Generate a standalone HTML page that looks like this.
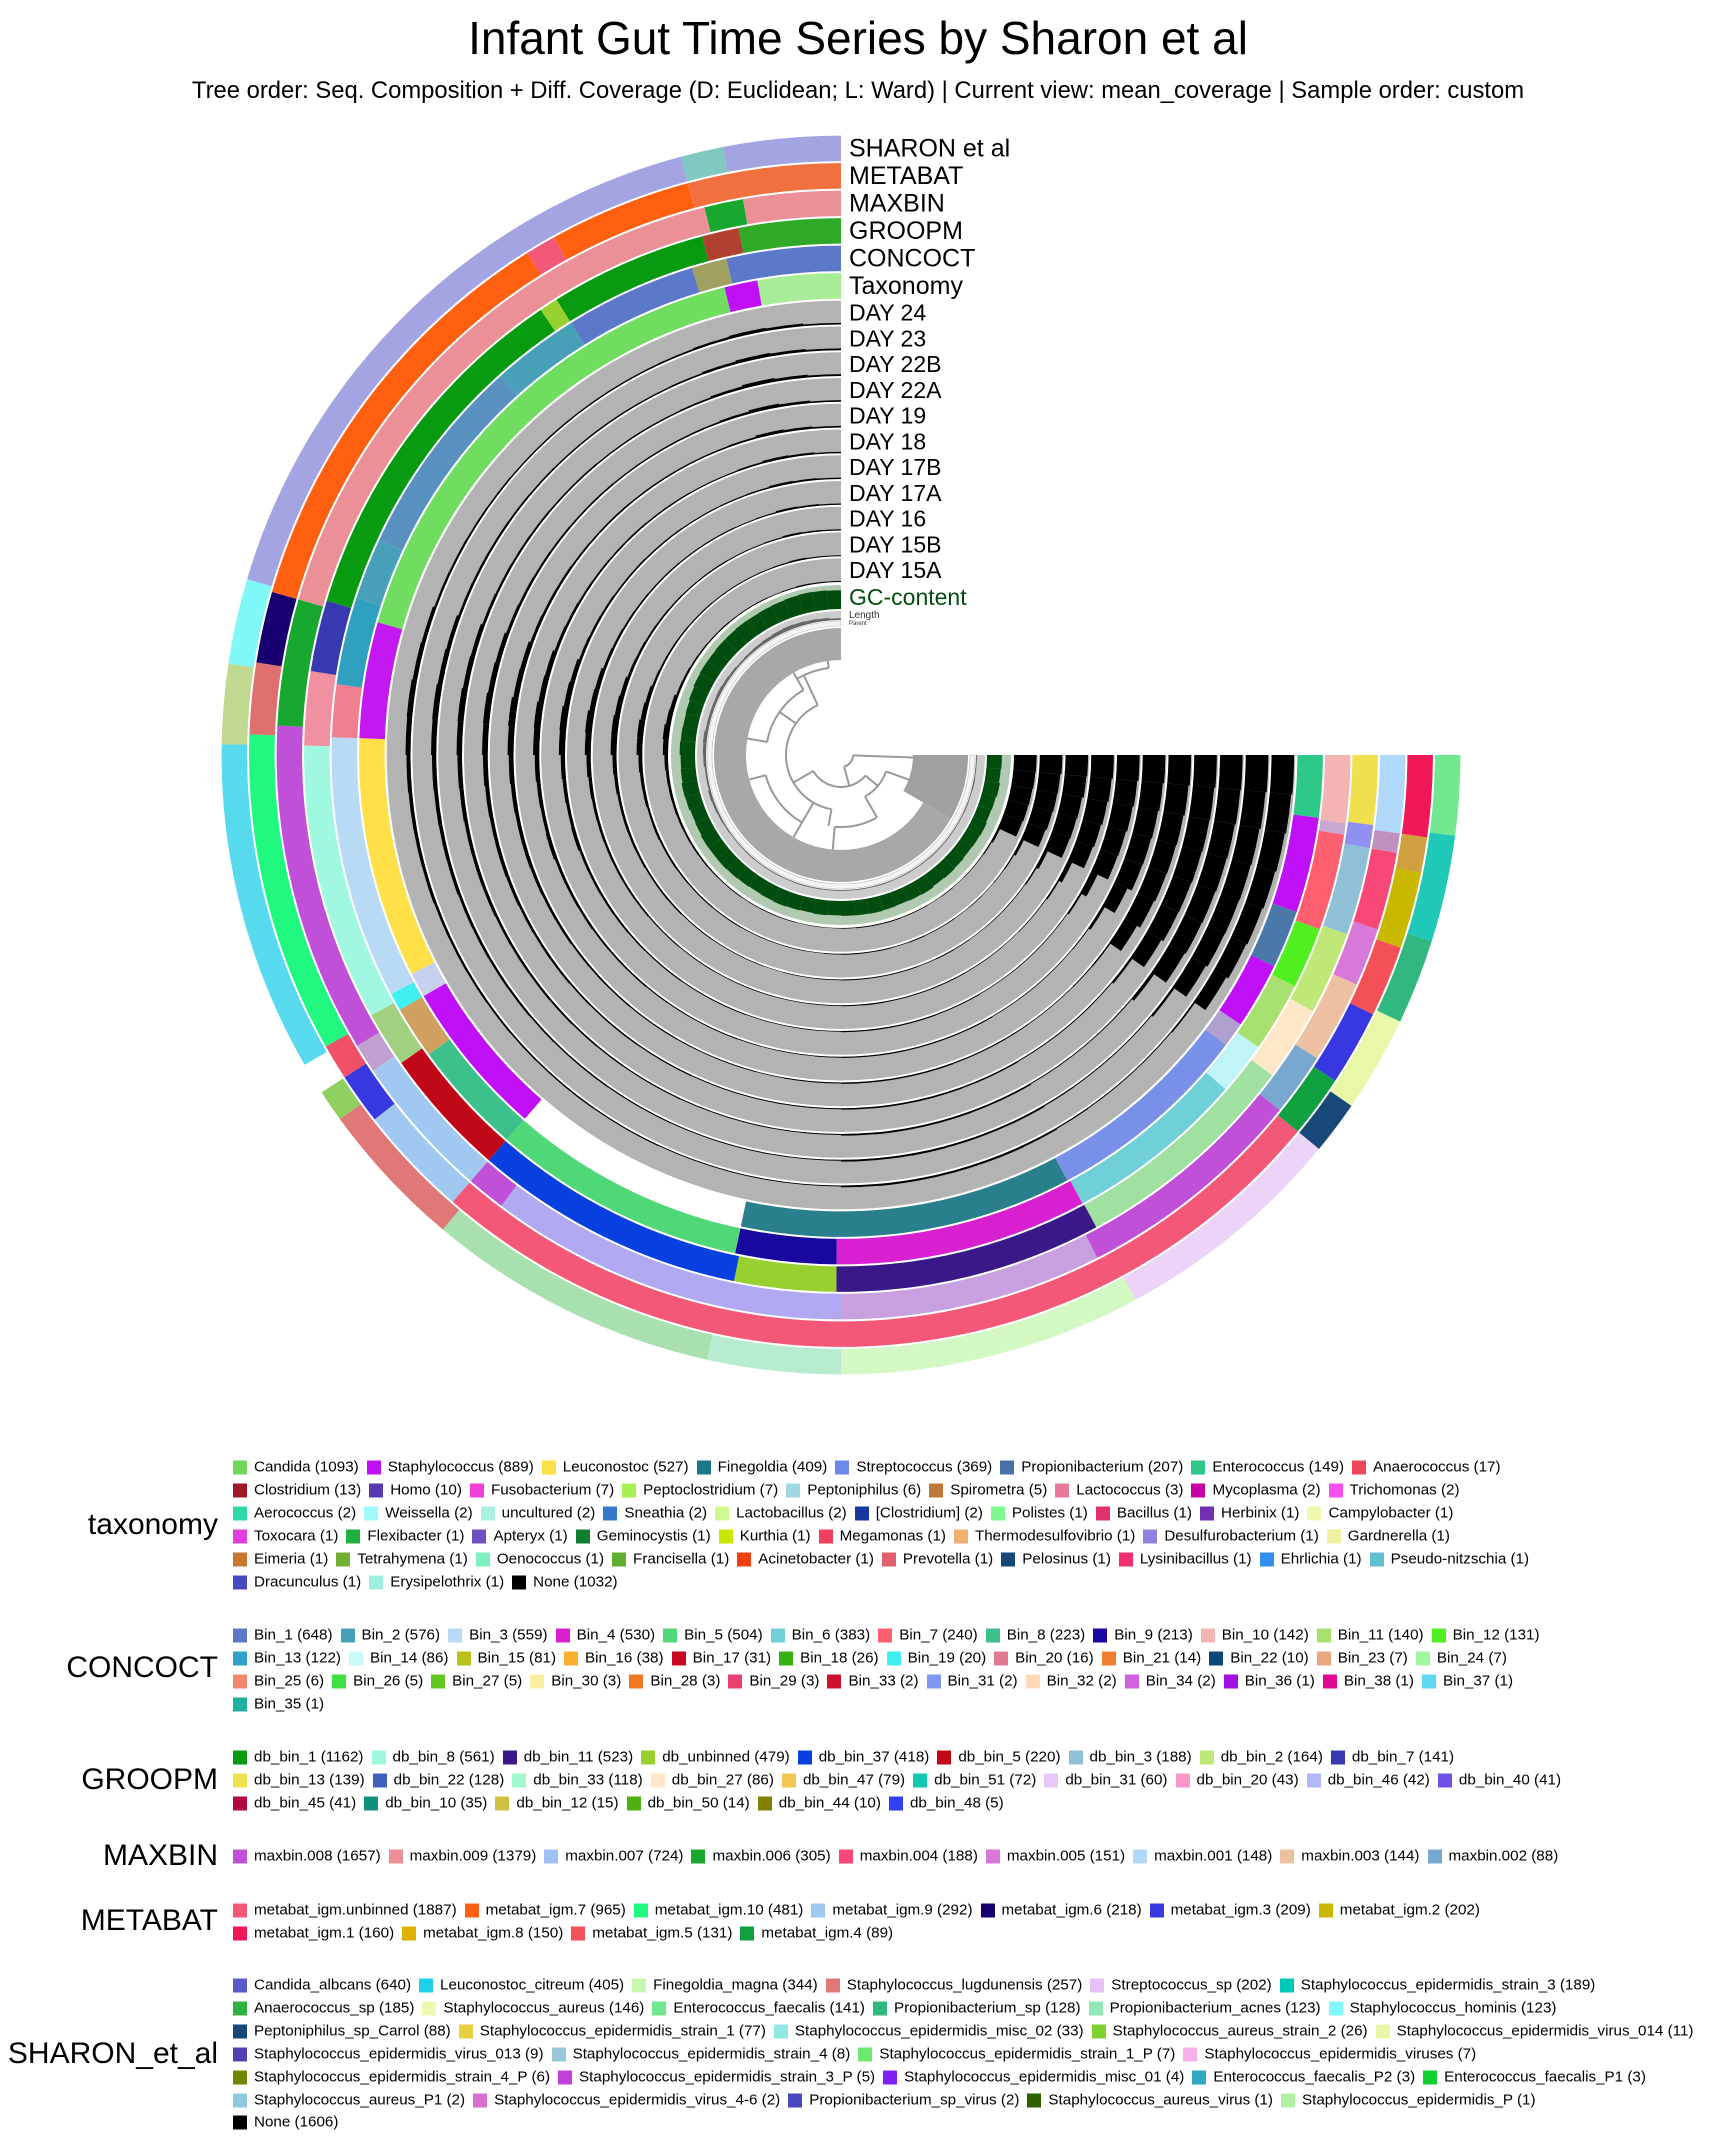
<!DOCTYPE html>
<html><head><meta charset="utf-8"><title>Infant Gut Time Series by Sharon et al</title>
<style>
html,body{margin:0;padding:0;background:#fff;}
body{width:1716px;height:2150px;position:relative;overflow:hidden;font-family:"Liberation Sans",sans-serif;}
#chart{position:absolute;left:0;top:0;}
.title{position:absolute;left:0;width:1716px;text-align:center;color:#000;}
.lg-title{position:absolute;right:1498px;font-size:30px;white-space:nowrap;transform:translateY(-50%);}
.lg-row{position:absolute;left:233px;display:flex;align-items:center;white-space:nowrap;font-size:15.2px;transform:translateY(-50%);}
.lg-item{display:flex;align-items:center;margin-right:8px;}
.sw{width:14px;height:14px;margin-right:7px;display:inline-block;}
</style></head>
<body>
<div class="title" style="top:11px;font-size:46px;">Infant Gut Time Series by Sharon et al</div>
<div class="title" style="top:77px;font-size:23.8px;">Tree order: Seq. Composition + Diff. Coverage (D: Euclidean; L: Ward) | Current view: mean_coverage | Sample order: custom</div>
<svg id="chart" width="1716" height="1440" viewBox="0 0 1716 1440"></svg>
<div id="legend"></div>
<script>
// ---------- DATA ----------
const ORDER_MAX = 270;
const taxonomySegs = [[0,7.5,'#2ec888'],[7.5,19,'#c010f8'],[19,26,'#4a78a8'],[26,34,'#c010f8'],[34,37,'#b0a0d0'],[37,62,'#7890e8'],[62,102,'#2a7f8c'],[131,150,'#c010f8'],[150,153,'#c8d0f0'],[153,182,'#ffe048'],[182,196,'#c418f0'],[196,256,'#70dc60'],[256,260,'#c010f8'],[260,270,'#a8ec98']];
const concoctSegs = [[0,7.7,'#f4b4b4'],[7.7,9,'#c8a8d0'],[9,20,'#ff6070'],[20,27,'#50f020'],[27,35,'#a8e070'],[35,41,'#c0f4f8'],[41,61.7,'#70d0d8'],[61.7,90.5,'#d820d0'],[90.5,102,'#1808a0'],[102,131,'#50d878'],[131,144,'#3cc08c'],[144,150,'#d0a060'],[150,152,'#40f0f0'],[152,182,'#b8daf4'],[182,188,'#f08090'],[188,198,'#30a0c0'],[198,205,'#48a0b8'],[205,228,'#5890c0'],[228,238,'#48a0b8'],[238,253,'#5c78c8'],[253,257,'#a0a060'],[257,270,'#5c78c8']];
const groopmSegs = [[0,7.5,'#f0e050'],[7.5,10,'#9090f0'],[10,19.5,'#90c0d8'],[19.5,28.5,'#c0e878'],[28.5,36.6,'#ffe8c8'],[36.6,61.6,'#a0e0a0'],[61.6,90.5,'#3a1888'],[90.5,101.5,'#98d030'],[101.5,131,'#0840e0'],[131,145,'#c00818'],[145,151,'#a0d080'],[151,181,'#a0f8e0'],[181,189,'#f090a0'],[189,196.7,'#3838b0'],[196.7,236,'#089a10'],[236,238,'#98d030'],[238,255,'#089a10'],[255,259,'#b04030'],[259,270,'#30a828']];
const maxbinSegs = [[0,8,'#b0d8f8'],[8,10,'#c090c0'],[10,18,'#f84878'],[18,24,'#d878d8'],[24,32.5,'#ecc0a0'],[32.5,39,'#78a8d0'],[39,63,'#c050d8'],[63,90,'#c8a0e0'],[90,127,'#b0a8f0'],[127,131,'#c050d8'],[131,146,'#a0c8f0'],[146,149,'#c0a0d0'],[149,183,'#c050d8'],[183,196,'#18a830'],[196,256,'#ec9098'],[256,260,'#18a830'],[260,270,'#ec9098']];
const metabatSegs = [[0,8,'#f01858'],[8,11.5,'#d0a040'],[11.5,19,'#c8b800'],[19,26,'#f45058'],[26,33.4,'#3838e0'],[33.4,39.5,'#10a040'],[39.5,131,'#f45878'],[131,142,'#a0c8f0'],[142,147,'#3838e0'],[147,150.5,'#f05068'],[150.5,182,'#20f880'],[182,189,'#e07070'],[189,196,'#180070'],[196,238,'#ff6010'],[238,241,'#f45878'],[241,255,'#ff6010'],[255,270,'#f07040']];
const sharonSegs = [[0,7.5,'#70e890'],[7.5,17.5,'#20c8b8'],[17.5,25.5,'#30b880'],[25.5,34.5,'#e8f8a8'],[34.5,39.5,'#184878'],[39.5,61.6,'#ecd4f8'],[61.6,90,'#d4f8c4'],[90,102.5,'#b8ecd0'],[102.5,130,'#a8e0b0'],[130,144,'#e07878'],[144,147,'#90d060'],[150,181,'#58daee'],[181,188.5,'#c0d890'],[188.5,196.5,'#80f8f8'],[196.5,255,'#a4a4e2'],[255,259,'#80c8c0'],[259,270,'#a4a4e2']];

const dayNames = ['DAY 15A','DAY 15B','DAY 16','DAY 17A','DAY 17B','DAY 18','DAY 19','DAY 22A','DAY 22B','DAY 23','DAY 24'];
// mean coverage per 5-degree bin (54 bins), fraction of ring height
const cov15A = [.95,.93,.9,.88,.85,.1,.05,.03, .03,.02,.03,.02, .03,.03,.04,.04,.04,.03, .02,.02,.02,.03,.03,.03,.03,.04,.04,.05,.06,.07, .08,.09,.1,.11,.12,.15, .22,.25,.2,.17, .1,.09,.07,.06,.05,.05,.04,.04,.04,.03,.04, .06,.05,.04];
const cov15B = [.95,.9,.88,.85,.8,.12,.05,.03, .02,.03,.02,.03, .03,.04,.03,.04,.04,.04, .03,.02,.03,.03,.03,.03,.04,.04,.05,.05,.06,.08, .08,.1,.09,.12,.13,.16, .24,.25,.2,.16, .1,.08,.07,.06,.05,.05,.04,.04,.04,.04,.05, .07,.05,.04];
const cov16 = [.95,.92,.85,.82,.8,.15,.06,.03, .03,.03,.02,.03, .04,.03,.04,.04,.04,.04, .03,.03,.03,.02,.03,.03,.03,.04,.04,.06,.07,.07, .09,.1,.11,.11,.14,.17, .25,.26,.22,.18, .12,.1,.08,.07,.06,.05,.05,.05,.04,.04,.05, .08,.06,.05];
const cov17A = [.95,.9,.85,.8,.75,.2,.07,.03, .03,.02,.03,.03, .04,.04,.04,.04,.05,.04, .03,.03,.03,.03,.03,.03,.04,.04,.05,.05,.07,.08, .09,.1,.11,.12,.14,.18, .25,.28,.22,.19, .12,.1,.08,.07,.06,.06,.05,.05,.05,.04,.05, .09,.07,.05];
const cov17B = [.95,.9,.85,.8,.78,.3,.08,.03, .03,.03,.03,.03, .04,.04,.05,.05,.05,.05, .03,.03,.03,.03,.04,.04,.04,.05,.05,.06,.08,.09, .1,.11,.15,.13,.15,.18, .26,.28,.23,.19, .12,.1,.09,.07,.07,.06,.06,.05,.05,.05,.06, .1,.08,.06];
const cov18 = [.95,.9,.85,.82,.8,.6,.12,.04, .03,.03,.03,.03, .05,.05,.05,.05,.05,.05, .04,.03,.03,.03,.04,.04,.04,.05,.06,.07,.08,.1, .11,.12,.16,.14,.16,.19, .26,.28,.23,.2, .13,.11,.09,.08,.07,.07,.06,.06,.05,.05,.07, .11,.09,.06];
const cov19 = [.95,.9,.85,.82,.8,.75,.6,.06, .04,.03,.03,.04, .05,.05,.06,.06,.06,.06, .04,.04,.03,.04,.04,.04,.05,.05,.06,.07,.08,.1, .11,.13,.15,.15,.17,.2, .25,.28,.22,.2, .13,.11,.1,.08,.07,.07,.06,.06,.06,.06,.08, .13,.1,.07];
const cov22A = [.95,.9,.88,.85,.82,.8,.7,.1, .04,.04,.04,.04, .06,.06,.07,.07,.07,.06, .04,.04,.04,.04,.04,.05,.05,.06,.06,.07,.09,.1, .11,.13,.15,.15,.17,.2, .24,.26,.22,.19, .13,.11,.09,.08,.07,.07,.06,.06,.06,.07,.1, .15,.11,.07];
const cov22B = [.95,.92,.88,.85,.82,.8,.75,.14, .04,.04,.04,.04, .07,.07,.08,.08,.08,.07, .04,.04,.04,.04,.04,.05,.05,.06,.07,.08,.09,.1, .11,.13,.14,.15,.17,.19, .23,.25,.21,.18, .12,.1,.09,.08,.07,.07,.06,.06,.06,.07,.11, .16,.12,.08];
const cov23 = [.95,.9,.85,.82,.8,.78,.7,.1, .04,.04,.04,.05, .08,.08,.08,.09,.08,.08, .04,.04,.04,.04,.04,.05,.05,.06,.06,.07,.09,.1, .11,.12,.14,.15,.16,.18, .22,.24,.2,.17, .11,.1,.09,.08,.07,.06,.06,.06,.06,.07,.11, .15,.12,.08];
const cov24 = [.95,.9,.85,.8,.75,.7,.6,.07, .04,.04,.04,.05, .08,.09,.09,.09,.09,.08, .04,.04,.04,.04,.04,.05,.05,.06,.06,.07,.08,.09, .1,.11,.13,.14,.15,.17, .21,.23,.19,.16, .1,.09,.08,.07,.06,.06,.06,.06,.06,.07,.1, .14,.11,.07];
const coverage = [cov15A,cov15B,cov16,cov17A,cov17B,cov18,cov19,cov22A,cov22B,cov23,cov24];
const gcValues = [.62,.6,.64,.6,.58,.62,.6,.58, .6,.62,.6,.64, .62,.6,.62,.64,.63,.62, .6,.62,.6,.62,.64,.62,.6,.62,.64,.66,.65,.66, .62,.6,.64,.66,.62,.6, .64,.62,.6,.62, .66,.7,.72,.72,.74,.74,.76,.75,.76,.78,.8, .82,.8,.78];
const lengthValues = [.1,.1,.15,.1,.12,.1,.1,.1, .1,.12,.1,.1, .1,.1,.12,.1,.1,.1, .1,.1,.1,.12,.1,.1,.1,.1,.12,.1,.1,.15, .2,.25,.3,.2,.2,.3, .35,.4,.3,.3, .3,.35,.3,.25,.2,.25,.3,.35,.4,.45,.4, .35,.3,.2];
// dendrogram: arcs [startPos, endPos, radius], radials [pos, r0, r1]
const treeArcs = [[2,75,12],[40,150,32],[100,245,55],[20,60,48],[120,165,78],[190,240,75],[60,95,72],[240,262,88]];
const treeRadials = [[2,12,75],[75,12,32],[40,32,48],[150,32,55],[20,48,75],[60,48,72],[100,55,72],[245,55,88],[120,55,78],[165,78,95],[120,78,95],[190,75,95],[240,75,88],[95,72,95],[240,88,95],[262,88,95],[215,55,75]];

// legends
const legendTaxonomy = [
[['Candida',1093,'#6fd85c'],['Staphylococcus',889,'#c010f8'],['Leuconostoc',527,'#ffe048'],['Finegoldia',409,'#187888'],['Streptococcus',369,'#6c88e8'],['Propionibacterium',207,'#4a70a8'],['Enterococcus',149,'#2ec888'],['Anaerococcus',17,'#f04858']],
[['Clostridium',13,'#a01828'],['Homo',10,'#5838b0'],['Fusobacterium',7,'#f040d8'],['Peptoclostridium',7,'#a8f050'],['Peptoniphilus',6,'#a0d8e0'],['Spirometra',5,'#c07838'],['Lactococcus',3,'#e87898'],['Mycoplasma',2,'#c800a8'],['Trichomonas',2,'#f850f0']],
[['Aerococcus',2,'#30d8a8'],['Weissella',2,'#a0f8f8'],['uncultured',2,'#a8f0e0'],['Sneathia',2,'#3878c8'],['Lactobacillus',2,'#d0f890'],['[Clostridium]',2,'#1838a0'],['Polistes',1,'#80f890'],['Bacillus',1,'#e03070'],['Herbinix',1,'#7030b0'],['Campylobacter',1,'#f0f8b0']],
[['Toxocara',1,'#e040e0'],['Flexibacter',1,'#20b040'],['Apteryx',1,'#7050c0'],['Geminocystis',1,'#108030'],['Kurthia',1,'#c8e800'],['Megamonas',1,'#f04060'],['Thermodesulfovibrio',1,'#f0b070'],['Desulfurobacterium',1,'#9080e0'],['Gardnerella',1,'#f0f0a0']],
[['Eimeria',1,'#c87830'],['Tetrahymena',1,'#70b030'],['Oenococcus',1,'#80f0c0'],['Francisella',1,'#60b030'],['Acinetobacter',1,'#f04010'],['Prevotella',1,'#e06070'],['Pelosinus',1,'#184878'],['Lysinibacillus',1,'#f03070'],['Ehrlichia',1,'#3090f0'],['Pseudo-nitzschia',1,'#60c0d0']],
[['Dracunculus',1,'#4848c0'],['Erysipelothrix',1,'#a0f0e0'],['None',1032,'#000000']]];
const legendConcoct = [
[['Bin_1',648,'#5c78c8'],['Bin_2',576,'#48a0b8'],['Bin_3',559,'#b8daf4'],['Bin_4',530,'#d820d0'],['Bin_5',504,'#50d878'],['Bin_6',383,'#70d0d8'],['Bin_7',240,'#ff6070'],['Bin_8',223,'#3cc08c'],['Bin_9',213,'#1808a0'],['Bin_10',142,'#f4b4b4'],['Bin_11',140,'#a8e070'],['Bin_12',131,'#50f020']],
[['Bin_13',122,'#30a0c8'],['Bin_14',86,'#c8f8f8'],['Bin_15',81,'#b8c020'],['Bin_16',38,'#f8b030'],['Bin_17',31,'#c80820'],['Bin_18',26,'#38b010'],['Bin_19',20,'#40f0f0'],['Bin_20',16,'#e07890'],['Bin_21',14,'#f08030'],['Bin_22',10,'#08487a'],['Bin_23',7,'#e8a880'],['Bin_24',7,'#a0f8a0']],
[['Bin_25',6,'#f08870'],['Bin_26',5,'#40e040'],['Bin_27',5,'#60c820'],['Bin_30',3,'#f8f0a0'],['Bin_28',3,'#f07820'],['Bin_29',3,'#e84070'],['Bin_33',2,'#d01030'],['Bin_31',2,'#8098f0'],['Bin_32',2,'#ffd8b8'],['Bin_34',2,'#d060e0'],['Bin_36',1,'#a010e0'],['Bin_38',1,'#e00890'],['Bin_37',1,'#60d8f0']],
[['Bin_35',1,'#20b0a0']]];
const legendGroopm = [
[['db_bin_1',1162,'#089a10'],['db_bin_8',561,'#a0f8e0'],['db_bin_11',523,'#3a1888'],['db_unbinned',479,'#98d030'],['db_bin_37',418,'#0840e0'],['db_bin_5',220,'#c00818'],['db_bin_3',188,'#90c0d8'],['db_bin_2',164,'#c0e878'],['db_bin_7',141,'#3838b0']],
[['db_bin_13',139,'#f0e050'],['db_bin_22',128,'#4060c0'],['db_bin_33',118,'#a0f8d0'],['db_bin_27',86,'#ffe8c8'],['db_bin_47',79,'#f0c850'],['db_bin_51',72,'#10c8b0'],['db_bin_31',60,'#e8c8f8'],['db_bin_20',43,'#f898c8'],['db_bin_46',42,'#b0b8f8'],['db_bin_40',41,'#7050e8']],
[['db_bin_45',41,'#b00840'],['db_bin_10',35,'#10907a'],['db_bin_12',15,'#d0c040'],['db_bin_50',14,'#50b010'],['db_bin_44',10,'#808000'],['db_bin_48',5,'#3040f0']]];
const legendMaxbin = [
[['maxbin.008',1657,'#c050d8'],['maxbin.009',1379,'#ec9098'],['maxbin.007',724,'#a0c0f8'],['maxbin.006',305,'#18a830'],['maxbin.004',188,'#f84878'],['maxbin.005',151,'#d878d8'],['maxbin.001',148,'#b0d8f8'],['maxbin.003',144,'#ecc0a0'],['maxbin.002',88,'#78a8d0']]];
const legendMetabat = [
[['metabat_igm.unbinned',1887,'#f45878'],['metabat_igm.7',965,'#ff6010'],['metabat_igm.10',481,'#20f880'],['metabat_igm.9',292,'#a0c8f0'],['metabat_igm.6',218,'#180070'],['metabat_igm.3',209,'#3838e0'],['metabat_igm.2',202,'#c8b800']],
[['metabat_igm.1',160,'#f01858'],['metabat_igm.8',150,'#e0b000'],['metabat_igm.5',131,'#f45058'],['metabat_igm.4',89,'#10a040']]];
const legendSharon = [
[['Candida_albcans',640,'#5a5ac8'],['Leuconostoc_citreum',405,'#20d0e8'],['Finegoldia_magna',344,'#c8f8b0'],['Staphylococcus_lugdunensis',257,'#e07878'],['Streptococcus_sp',202,'#e8c0f8'],['Staphylococcus_epidermidis_strain_3',189,'#00c8b8']],
[['Anaerococcus_sp',185,'#30b040'],['Staphylococcus_aureus',146,'#f0f8b0'],['Enterococcus_faecalis',141,'#70e890'],['Propionibacterium_sp',128,'#30b880'],['Propionibacterium_acnes',123,'#90e8b8'],['Staphylococcus_hominis',123,'#80f8f8']],
[['Peptoniphilus_sp_Carrol',88,'#184878'],['Staphylococcus_epidermidis_strain_1',77,'#e8d040'],['Staphylococcus_epidermidis_misc_02',33,'#90e8e0'],['Staphylococcus_aureus_strain_2',26,'#80d030'],['Staphylococcus_epidermidis_virus_014',11,'#e8f8a8']],
[['Staphylococcus_epidermidis_virus_013',9,'#5040b0'],['Staphylococcus_epidermidis_strain_4',8,'#98c8d8'],['Staphylococcus_epidermidis_strain_1_P',7,'#70e870'],['Staphylococcus_epidermidis_viruses',7,'#f8b0e8']],
[['Staphylococcus_epidermidis_strain_4_P',6,'#708800'],['Staphylococcus_epidermidis_strain_3_P',5,'#c040d8'],['Staphylococcus_epidermidis_misc_01',4,'#8020f8'],['Enterococcus_faecalis_P2',3,'#30a8c0'],['Enterococcus_faecalis_P1',3,'#10d030']],
[['Staphylococcus_aureus_P1',2,'#90c8e0'],['Staphylococcus_epidermidis_virus_4-6',2,'#d870d0'],['Propionibacterium_sp_virus',2,'#4848c0'],['Staphylococcus_aureus_virus',1,'#306000'],['Staphylococcus_epidermidis_P',1,'#b0f0a0']],
[['None',1606,'#000000']]];

// ---------- GEOMETRY ----------
const CX = 841, CY = 755;
const NS = 'http://www.w3.org/2000/svg';
const svg = document.getElementById('chart');
function angleOf(pos){ return pos / ORDER_MAX * 270; }
function pt(r, deg){ const a = deg*Math.PI/180; return [CX + r*Math.cos(a), CY + r*Math.sin(a)]; }
function sector(r0, r1, d0, d1){
  const large = (d1-d0) > 180 ? 1 : 0;
  const a = pt(r1,d0), b = pt(r1,d1), c = pt(r0,d1), e = pt(r0,d0);
  return 'M'+a[0].toFixed(2)+' '+a[1].toFixed(2)+'A'+r1+' '+r1+' 0 '+large+' 1 '+b[0].toFixed(2)+' '+b[1].toFixed(2)+
         'L'+c[0].toFixed(2)+' '+c[1].toFixed(2)+'A'+r0+' '+r0+' 0 '+large+' 0 '+e[0].toFixed(2)+' '+e[1].toFixed(2)+'Z';
}
function arcPath(r, d0, d1){
  const large = (d1-d0) > 180 ? 1 : 0;
  const a = pt(r,d0), b = pt(r,d1);
  return 'M'+a[0].toFixed(2)+' '+a[1].toFixed(2)+'A'+r+' '+r+' 0 '+large+' 1 '+b[0].toFixed(2)+' '+b[1].toFixed(2);
}
function mkPath(parent, d, fill){
  const p = document.createElementNS(NS,'path');
  p.setAttribute('d', d);
  p.setAttribute('fill', fill);
  parent.appendChild(p);
  return p;
}
function mkGroup(name){
  const g = document.createElementNS(NS,'g');
  
  
  svg.appendChild(g);
  return g;
}
function mkLabel(text, y, size, color, name){
  const t = document.createElementNS(NS,'text');
  
  
  t.setAttribute('x', 849);
  t.setAttribute('y', y);
  t.setAttribute('font-size', size);
  t.setAttribute('fill', color);
  t.setAttribute('dominant-baseline', 'central');
  t.setAttribute('font-family', 'Liberation Sans, sans-serif');
  t.textContent = text;
  svg.appendChild(t);
}

// ---------- TREE ----------
const gTree = mkGroup('dendrogram');
const wedge = mkPath(gTree, sector(72, 127, angleOf(0), angleOf(30)), '#a0a0a0');

const leafBand = mkPath(gTree, sector(95, 127, angleOf(30), angleOf(270)), '#a8a8a8');

treeArcs.forEach(function(a){
  const p = mkPath(gTree, arcPath(a[2], angleOf(a[0]), angleOf(a[1])), 'none');
  p.setAttribute('stroke', '#999');
  p.setAttribute('stroke-width', '2');
  
});
treeRadials.forEach(function(rd){
  const a = pt(rd[1], angleOf(rd[0])), b = pt(rd[2], angleOf(rd[0]));
  const p = mkPath(gTree, 'M'+a[0]+' '+a[1]+'L'+b[0]+' '+b[1], 'none');
  p.setAttribute('stroke', '#999');
  p.setAttribute('stroke-width', '2');
  
});

// ---------- PARENT / LENGTH / GC ----------
const gPar = mkGroup('parent-layer');
const par = mkPath(gPar, sector(129, 134, 0, 270), '#f4f4f4');
par.setAttribute('stroke', '#bbb');
par.setAttribute('stroke-width', '0.6');
const gLen = mkGroup('length-layer');
mkPath(gLen, sector(135, 144, 0, 270), '#cccccc');
lengthValues.forEach(function(v,k){
  const bar = mkPath(gLen, sector(135, 135 + v*9, angleOf(k*5), angleOf(k*5+5)), '#666');
  
});
const gGC = mkGroup('gc-content-layer');
mkPath(gGC, sector(146, 170, 0, 270), '#b0c9b0');
gcValues.forEach(function(v,k){
  const bar = mkPath(gGC, sector(146, 146 + v*24, angleOf(k*5), angleOf(k*5+5)), '#004d0f');
  
});

// ---------- COVERAGE ----------
const DAY_R0 = 172, DAY_H = 25.75;
coverage.forEach(function(vals, i){
  const g = mkGroup('coverage-' + dayNames[i].toLowerCase().replace(' ','-'));
  const r0 = DAY_R0 + i*DAY_H + 1, r1 = DAY_R0 + (i+1)*DAY_H - 1;
  mkPath(g, sector(r0, r1, 0, 270), '#b3b3b3');
  vals.forEach(function(v,k){
    const bar = mkPath(g, sector(r0, r0 + v*(r1-r0), angleOf(k*5), angleOf(k*5+5)), '#000');
    
  });
});

// ---------- CATEGORICAL LAYERS ----------
const catLayers = [['taxonomy',taxonomySegs,'Taxonomy'],['concoct',concoctSegs,'CONCOCT'],['groopm',groopmSegs,'GROOPM'],['maxbin',maxbinSegs,'MAXBIN'],['metabat',metabatSegs,'METABAT'],['sharon',sharonSegs,'SHARON et al']];
const CAT_R0 = 455.4, CAT_H = 27.5;
catLayers.forEach(function(L, i){
  const g = mkGroup(L[0] + '-layer');
  const r0 = CAT_R0 + i*CAT_H + 1, r1 = CAT_R0 + (i+1)*CAT_H - 1;
  L[1].forEach(function(s){
    const seg = mkPath(g, sector(r0, r1, angleOf(s[0]), angleOf(s[1])), s[2]);
    
  });
});

// ---------- LAYER LABELS ----------
catLayers.forEach(function(L, i){
  const rm = CAT_R0 + (i+0.5)*CAT_H;
  mkLabel(L[2], CY - rm, 25, '#000', L[0] + '-label');
});
dayNames.forEach(function(n, i){
  const rm = DAY_R0 + (i+0.5)*DAY_H;
  mkLabel(n, CY - rm, 23, '#000', n.toLowerCase().replace(' ','-') + '-label');
});
mkLabel('GC-content', CY - 158, 23, '#004d0f', 'gc-content-label');
mkLabel('Length', CY - 139.5, 10, '#333', 'length-label');
mkLabel('Parent', CY - 131, 6, '#333', 'parent-label');

// ---------- LEGENDS ----------
const legendGroups = [
  ['taxonomy', legendTaxonomy, 1525, [1467,1490,1513,1536,1559,1582]],
  ['CONCOCT', legendConcoct, 1668, [1635,1658,1681,1704]],
  ['GROOPM', legendGroopm, 1780, [1757,1780,1803]],
  ['MAXBIN', legendMaxbin, 1856, [1856]],
  ['METABAT', legendMetabat, 1921, [1910,1933]],
  ['SHARON_et_al', legendSharon, 2054, [1985,2008,2031,2054,2077,2100,2122]]
];
const legendDiv = document.getElementById('legend');
legendGroups.forEach(function(G){
  const title = document.createElement('div');
  title.className = 'lg-title';
  
  
  title.style.top = G[2] + 'px';
  title.textContent = G[0];
  legendDiv.appendChild(title);
  G[1].forEach(function(row, ri){
    const rowDiv = document.createElement('div');
    rowDiv.className = 'lg-row';
    
    
    rowDiv.style.top = G[3][ri] + 'px';
    row.forEach(function(it){
      const item = document.createElement('div');
      item.className = 'lg-item';
      
      
      const sw = document.createElement('span');
      sw.className = 'sw';
      
      
      sw.style.background = it[2];
      const tx = document.createElement('span');
      
      
      tx.textContent = it[0] + ' (' + it[1] + ')';
      item.appendChild(sw);
      item.appendChild(tx);
      rowDiv.appendChild(item);
    });
    legendDiv.appendChild(rowDiv);
  });
});
</script>
</body></html>
